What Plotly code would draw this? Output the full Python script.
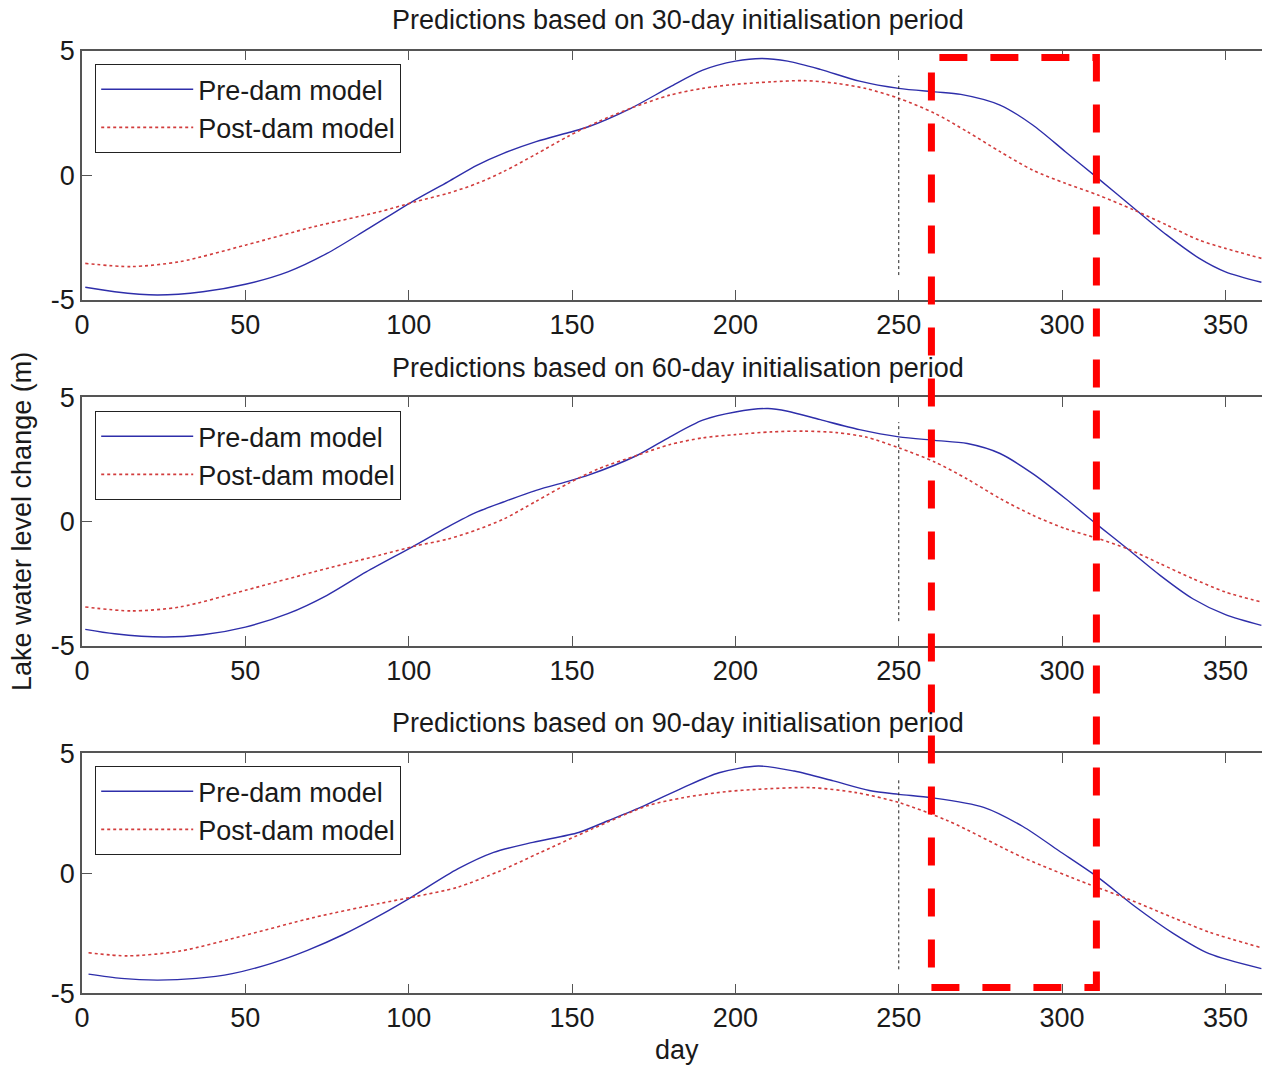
import plotly.graph_objects as go

# ---------------- data ----------------
titles = [
    "Predictions based on 30-day initialisation period",
    "Predictions based on 60-day initialisation period",
    "Predictions based on 90-day initialisation period",
]
series_names = ["Pre-dam model", "Post-dam model"]

pre1_day = [1, 10, 23, 37, 50, 63, 75, 87, 101, 112, 121, 129, 139, 149, 155, 168, 180, 190, 200, 208,
            216, 226, 238, 250, 261, 269, 281, 291, 301, 311, 322, 332, 342, 350, 361]
pre1 = [-4.49, -4.67, -4.80, -4.67, -4.37, -3.87, -3.13, -2.19, -1.06, -0.26, 0.41, 0.88, 1.35, 1.72, 1.95,
        2.69, 3.55, 4.22, 4.58, 4.69, 4.58, 4.25, 3.78, 3.49, 3.35, 3.25, 2.82, 2.02, 0.95, -0.12, -1.32,
        -2.39, -3.33, -3.87, -4.29]
post1_day = [1, 15, 30, 50, 71, 91, 102, 112, 121, 129, 139, 149, 158, 168, 180, 190, 200, 211, 221, 231,
             240, 250, 261, 271, 281, 291, 301, 311, 322, 332, 342, 350, 361]
post1 = [-3.53, -3.66, -3.46, -2.80, -2.06, -1.46, -1.06, -0.72, -0.32, 0.15, 0.85, 1.58, 2.15, 2.69, 3.22,
         3.49, 3.65, 3.75, 3.80, 3.69, 3.48, 3.09, 2.49, 1.75, 0.95, 0.21, -0.32, -0.79, -1.39, -1.99,
         -2.60, -2.93, -3.33]

pre2_day = [1, 10, 25, 37, 50, 63, 75, 87, 101, 112, 121, 129, 139, 149, 155, 170, 180, 190, 200, 210,
            216, 226, 238, 250, 261, 271, 281, 291, 301, 311, 320, 330, 340, 350, 361]
pre2 = [-4.33, -4.51, -4.64, -4.55, -4.24, -3.70, -2.96, -2.02, -1.02, -0.21, 0.39, 0.79, 1.26, 1.63, 1.87,
        2.67, 3.41, 4.08, 4.41, 4.55, 4.44, 4.10, 3.70, 3.41, 3.27, 3.14, 2.74, 1.93, 0.93, -0.15, -1.09,
        -2.16, -3.10, -3.74, -4.17]
post2_day = [1, 15, 30, 50, 71, 91, 102, 112, 121, 129, 139, 149, 158, 170, 180, 190, 200, 211, 221, 231,
             240, 250, 261, 271, 281, 291, 301, 311, 320, 330, 340, 350, 361]
post2 = [-3.43, -3.59, -3.43, -2.76, -2.02, -1.35, -0.98, -0.70, -0.32, 0.10, 0.82, 1.55, 2.12, 2.67, 3.10,
         3.37, 3.50, 3.61, 3.64, 3.58, 3.40, 2.97, 2.40, 1.71, 0.93, 0.26, -0.28, -0.68, -1.09, -1.69,
         -2.29, -2.83, -3.23]

pre3_day = [2, 12, 23, 35, 46, 58, 69, 80, 92, 101, 115, 126, 138, 152, 161, 172, 184, 195, 207, 218, 230,
            241, 250, 260, 276, 288, 299, 311, 322, 334, 345, 361]
pre3 = [-4.20, -4.38, -4.45, -4.38, -4.18, -3.75, -3.21, -2.55, -1.69, -0.98, 0.18, 0.87, 1.29, 1.70, 2.19,
        2.81, 3.57, 4.19, 4.47, 4.26, 3.85, 3.45, 3.29, 3.15, 2.75, 1.95, 0.94, -0.17, -1.35, -2.50, -3.35,
        -3.97]
post3_day = [2, 14, 30, 50, 71, 91, 102, 115, 128, 140, 156, 173, 184, 197, 207, 223, 237, 250, 265, 288,
             308, 320, 334, 345, 361]
post3 = [-3.31, -3.44, -3.24, -2.58, -1.84, -1.26, -0.97, -0.58, 0.10, 0.85, 1.84, 2.81, 3.15, 3.40, 3.50,
         3.57, 3.36, 2.95, 2.19, 0.66, -0.45, -1.06, -1.85, -2.45, -3.10]

switch_day = 250
switch_range = [-4, 4]

highlight_days = [260, 310.5]

x_ticks = [0, 50, 100, 150, 200, 250, 300, 350]
y_ticks = [-5, 0, 5]
y_ticktext = ["-5", "0", "5"]

# ---------------- figure ----------------
W, H = 1262, 1065
FONT = "Liberation Sans, Arial, sans-serif"
TXT = "#1a1a1a"
AX = "#555555"
BLUE = "#2e2eaa"
RED = "#d23c3c"

pre_days = [pre1_day, pre2_day, pre3_day]
pre_vals = [pre1, pre2, pre3]
post_days = [post1_day, post2_day, post3_day]
post_vals = [post1, post2, post3]

# plot area pixel boxes (top, bottom)
boxes = [(50.7, 300.0), (397.3, 646.0), (753.3, 993.3)]
x_left_px = 82
x_right_px = 1262
x_max = (x_right_px - x_left_px) / 3.267

legend_tops = [64, 411, 766]
title_ys = [20, 368, 723]

fig = go.Figure()
legend_ids = ["legend", "legend2", "legend3"]

for i in range(3):
    xa = "x" if i == 0 else f"x{i+1}"
    ya = "y" if i == 0 else f"y{i+1}"
    fig.add_trace(go.Scatter(
        x=pre_days[i], y=pre_vals[i], mode="lines", name=series_names[0],
        line=dict(color=BLUE, width=1.4, shape="spline", smoothing=0.8),
        xaxis=xa, yaxis=ya, legend=legend_ids[i]))
    fig.add_trace(go.Scatter(
        x=post_days[i], y=post_vals[i], mode="lines", name=series_names[1],
        line=dict(color=RED, width=1.6, dash="dot", shape="spline", smoothing=0.8),
        xaxis=xa, yaxis=ya, legend=legend_ids[i]))
    fig.add_trace(go.Scatter(
        x=[switch_day, switch_day], y=switch_range, mode="lines", showlegend=False,
        line=dict(color="#222222", width=1, dash="dot"),
        xaxis=xa, yaxis=ya))

layout = dict(
    width=W, height=H,
    margin=dict(l=0, r=0, t=0, b=0),
    paper_bgcolor="white", plot_bgcolor="white",
    font=dict(family=FONT, size=27, color=TXT),
    showlegend=True,
)

for i in range(3):
    top, bot = boxes[i]
    sfx = "" if i == 0 else str(i + 1)
    layout["xaxis" + sfx] = dict(
        domain=[x_left_px / W, 1.0], range=[0, x_max], anchor="y" + sfx,
        tickmode="array", tickvals=x_ticks, ticks="inside", ticklen=10, tickcolor=AX, tickwidth=1.2,
        showline=True, linecolor=AX, linewidth=1.5, mirror="ticks",
        showgrid=False, zeroline=False, tickfont=dict(size=27, color=TXT), automargin=False,
    )
    layout["yaxis" + sfx] = dict(
        domain=[1 - bot / H, 1 - top / H], range=[-5, 5], anchor="x" + sfx,
        tickmode="array", tickvals=y_ticks, ticktext=y_ticktext, ticks="inside", ticklen=10,
        tickcolor=AX, tickwidth=1.2,
        showline=True, linecolor=AX, linewidth=1.5, mirror=False,
        showgrid=False, zeroline=False, tickfont=dict(size=27, color=TXT), automargin=False,
    )
    layout[legend_ids[i]] = dict(
        x=95 / W, y=1 - legend_tops[i] / H, xanchor="left", yanchor="top",
        bgcolor="white", bordercolor="#222222", borderwidth=1.2,
        font=dict(size=27, color=TXT), tracegroupgap=0, itemwidth=92,
    )

annotations = []
for i in range(3):
    annotations.append(dict(
        text=titles[i], x=678 / W, y=1 - title_ys[i] / H, xref="paper", yref="paper",
        showarrow=False, xanchor="center", yanchor="middle", font=dict(size=27, color=TXT)))
annotations.append(dict(
    text="Lake water level change (m)", x=22 / W, y=1 - 522 / H, xref="paper", yref="paper",
    showarrow=False, textangle=-90, xanchor="center", yanchor="middle", font=dict(size=27, color=TXT)))
annotations.append(dict(
    text="day", x=677 / W, y=1 - 1050 / H, xref="paper", yref="paper",
    showarrow=False, xanchor="center", yanchor="middle", font=dict(size=27, color=TXT)))
layout["annotations"] = annotations

layout["shapes"] = [dict(
    type="rect", xref="x", yref="paper",
    x0=highlight_days[0], x1=highlight_days[1],
    y0=1 - 987.5 / H, y1=1 - 57.5 / H,
    line=dict(color="#ff0000", width=7, dash="28px,23px"),
    fillcolor="rgba(0,0,0,0)", layer="above")]

fig.update_layout(**layout)
fig.write_html("out.html")
